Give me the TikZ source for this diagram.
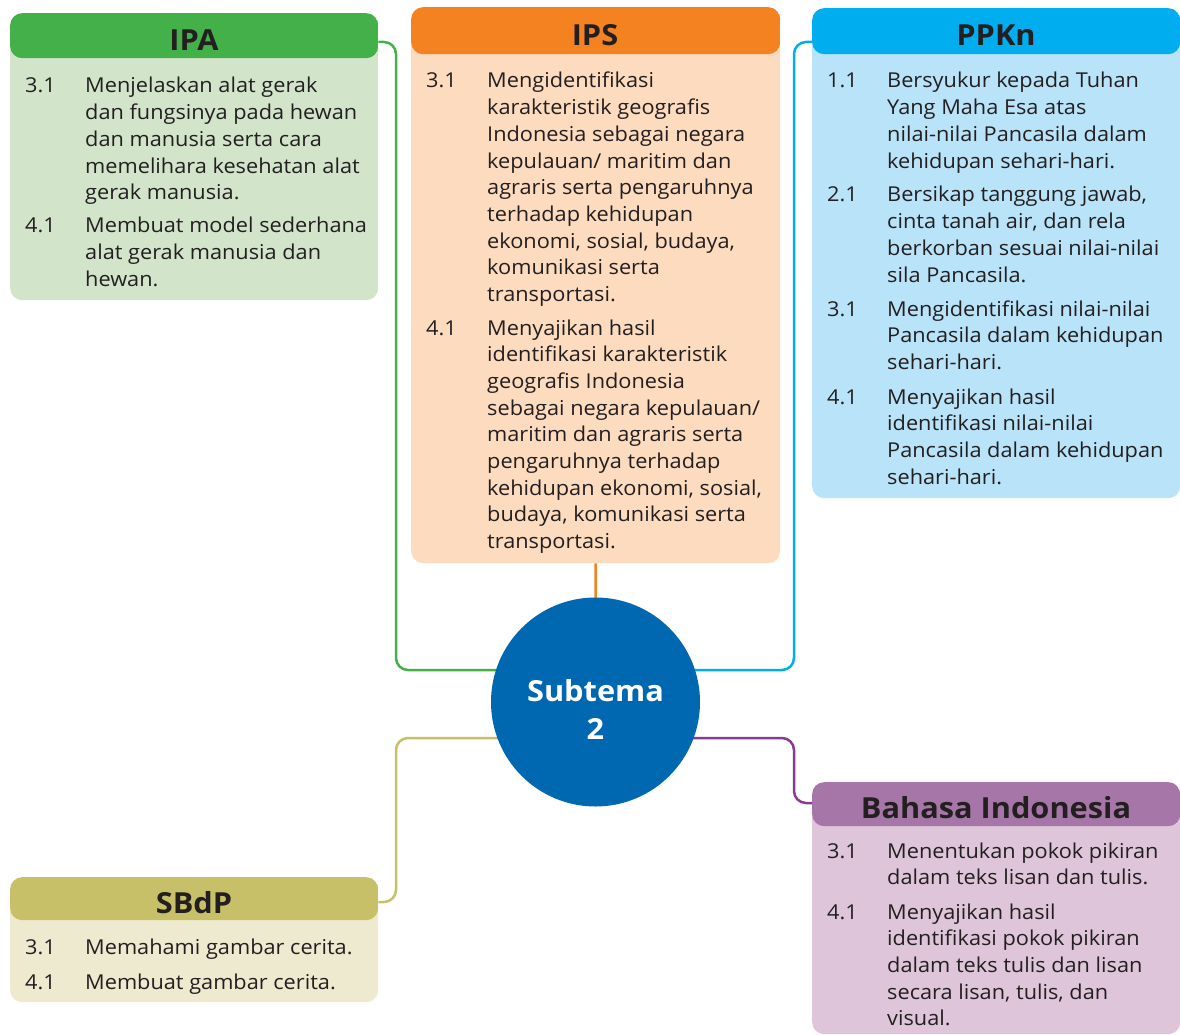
\documentclass[tikz,border=0pt]{standalone}
\usepackage{fontspec}
\setmainfont{Open Sans}[FakeStretch=1.06]
\usetikzlibrary{calc}
\definecolor{ipaH}{HTML}{43B04A}\definecolor{ipaB}{HTML}{D2E5CB}
\definecolor{ipsH}{HTML}{F58220}\definecolor{ipsB}{HTML}{FDDBBE}
\definecolor{ppkH}{HTML}{00AEEF}\definecolor{ppkB}{HTML}{B9E3F9}
\definecolor{sbdH}{HTML}{C8C068}\definecolor{sbdB}{HTML}{EEEAD0}
\definecolor{bahH}{HTML}{A776A8}\definecolor{bahB}{HTML}{DFC5DA}
\definecolor{bahL}{HTML}{8B3A8F}
\definecolor{subC}{HTML}{0067B1}
\definecolor{ink}{HTML}{231F20}
\newcommand\bodyfont{\fontsize{20.5}{26.7}\selectfont}
\newcommand\mylines[1]{\begin{tabular}[t]{@{}l@{}}#1\end{tabular}}
\begin{document}
\begin{tikzpicture}[x=1pt,y=-1pt,
  box/.style={rounded corners=12pt, inner sep=0pt, anchor=north west, fill=#1},
  hdr/.style 2 args={path picture={\fill[#1] (path picture bounding box.north west) rectangle ([yshift=-#2]path picture bounding box.north east);}},
  ttl/.style={font=\fontsize{29}{32}\selectfont\bfseries, text=ink, inner sep=0pt},
  num/.style={font=\bodyfont, text=ink, inner sep=0pt, anchor=base west},
  txt/.style={font=\bodyfont, text=ink, inner sep=0pt, anchor=base west},
  conn/.style={line width=2.5pt, rounded corners=12pt}]
\useasboundingbox (0,0) rectangle (1180,1035);
% boxes
\node[box=ipaB, hdr={ipaH}{45pt}, minimum width=368pt, minimum height=287pt] (ipa) at (10,13) {};
\node[box=ipsB, hdr={ipsH}{47pt}, minimum width=369pt, minimum height=556pt] (ips) at (411,7) {};
\node[box=ppkB, hdr={ppkH}{46pt}, minimum width=368pt, minimum height=490pt] (ppk) at (812,8) {};
\node[box=sbdB, hdr={sbdH}{43pt}, minimum width=368pt, minimum height=125pt] (sbd) at (10,877) {};
\node[box=bahB, hdr={bahH}{44pt}, minimum width=368pt, minimum height=252pt] (bah) at (812,782) {};

% connectors
\coordinate (subc) at (595.5,702);
\draw[conn, ipaH] ($(ipa.north east)+(0,29)$) -- (396,42) -- (396,670) -- ($(subc)+(0,-32)$);
\draw[conn, ppkH] ($(ppk.north west)+(0,34)$) -- (794,42) -- (794,670) -- ($(subc)+(0,-32)$);
\draw[conn, sbdH] ($(sbd.north east)+(0,25)$) -- (396,902) -- (396,738) -- ($(subc)+(0,36)$);
\draw[conn, bahL] ($(bah.north west)+(0,21)$) -- (794,803) -- (794,738) -- ($(subc)+(0,36)$);
\draw[line width=2.5pt, ipsH] (ips.south) -- (subc);
\node[circle, fill=subC, minimum size=209pt, inner sep=0pt] (sub) at (subc) {};
\node[text=white, align=center, inner sep=0pt, font=\fontsize{29}{38}\selectfont\bfseries] (subtxt) at ($(sub.center)+(0,7)$) {Subtema\\2};

% titles
\node[ttl] (ipaT) at (194,40) {IPA};
\node[ttl] (ipsT) at (595,35) {IPS};
\node[ttl] (ppkT) at (996,35) {PPKn};
\node[ttl] (sbdT) at (194,903) {SBdP};
\node[ttl] (bahT) at (996,808) {Bahasa Indonesia};

% IPA
\node[num] (ipa31n) at (25,93) {3.1};
\node[txt] (ipa31) at (85,93) {\mylines{Menjelaskan alat gerak\\dan fungsinya pada hewan\\dan manusia serta cara\\memelihara kesehatan alat\\gerak manusia.}};
\node[num] (ipa41n) at (25,233) {4.1};
\node[txt] (ipa41) at (85,233) {\mylines{Membuat model sederhana\\alat gerak manusia dan\\hewan.}};

% IPS
\node[num] (ips31n) at (426,88) {3.1};
\node[txt] (ips31) at (487,88) {\mylines{Mengidentifikasi\\karakteristik geografis\\Indonesia sebagai negara\\kepulauan/ maritim dan\\agraris serta pengaruhnya\\terhadap kehidupan\\ekonomi, sosial, budaya,\\komunikasi serta\\transportasi.}};
\node[num] (ips41n) at (426,335) {4.1};
\node[txt] (ips41) at (487,335) {\mylines{Menyajikan hasil\\identifikasi karakteristik\\geografis Indonesia\\sebagai negara kepulauan/\\maritim dan agraris serta\\pengaruhnya terhadap\\kehidupan ekonomi, sosial,\\budaya, komunikasi serta\\transportasi.}};

% PPKn
\node[num] (ppk11n) at (827,88) {1.1};
\node[txt] (ppk11) at (887,88) {\mylines{Bersyukur kepada Tuhan\\Yang Maha Esa atas\\nilai-nilai Pancasila dalam\\kehidupan sehari-hari.}};
\node[num] (ppk21n) at (827,202) {2.1};
\node[txt] (ppk21) at (887,202) {\mylines{Bersikap tanggung jawab,\\cinta tanah air, dan rela\\berkorban sesuai nilai-nilai\\sila Pancasila.}};
\node[num] (ppk31n) at (827,316) {3.1};
\node[txt] (ppk31) at (887,316) {\mylines{Mengidentifikasi nilai-nilai\\Pancasila dalam kehidupan\\sehari-hari.}};
\node[num] (ppk41n) at (827,404) {4.1};
\node[txt] (ppk41) at (887,404) {\mylines{Menyajikan hasil\\identifikasi nilai-nilai\\Pancasila dalam kehidupan\\sehari-hari.}};

% SBdP
\node[num] (sbd31n) at (25,954) {3.1};
\node[txt] (sbd31) at (85,954) {Memahami gambar cerita.};
\node[num] (sbd41n) at (25,989) {4.1};
\node[txt] (sbd41) at (85,989) {Membuat gambar cerita.};

% Bahasa Indonesia
\node[num] (bah31n) at (827,858) {3.1};
\node[txt] (bah31) at (887,858) {\mylines{Menentukan pokok pikiran\\dalam teks lisan dan tulis.}};
\node[num] (bah41n) at (827,919) {4.1};
\node[txt] (bah41) at (887,919) {\mylines{Menyajikan hasil\\identifikasi pokok pikiran\\dalam teks tulis dan lisan\\secara lisan, tulis, dan\\visual.}};
\end{tikzpicture}
\end{document}
